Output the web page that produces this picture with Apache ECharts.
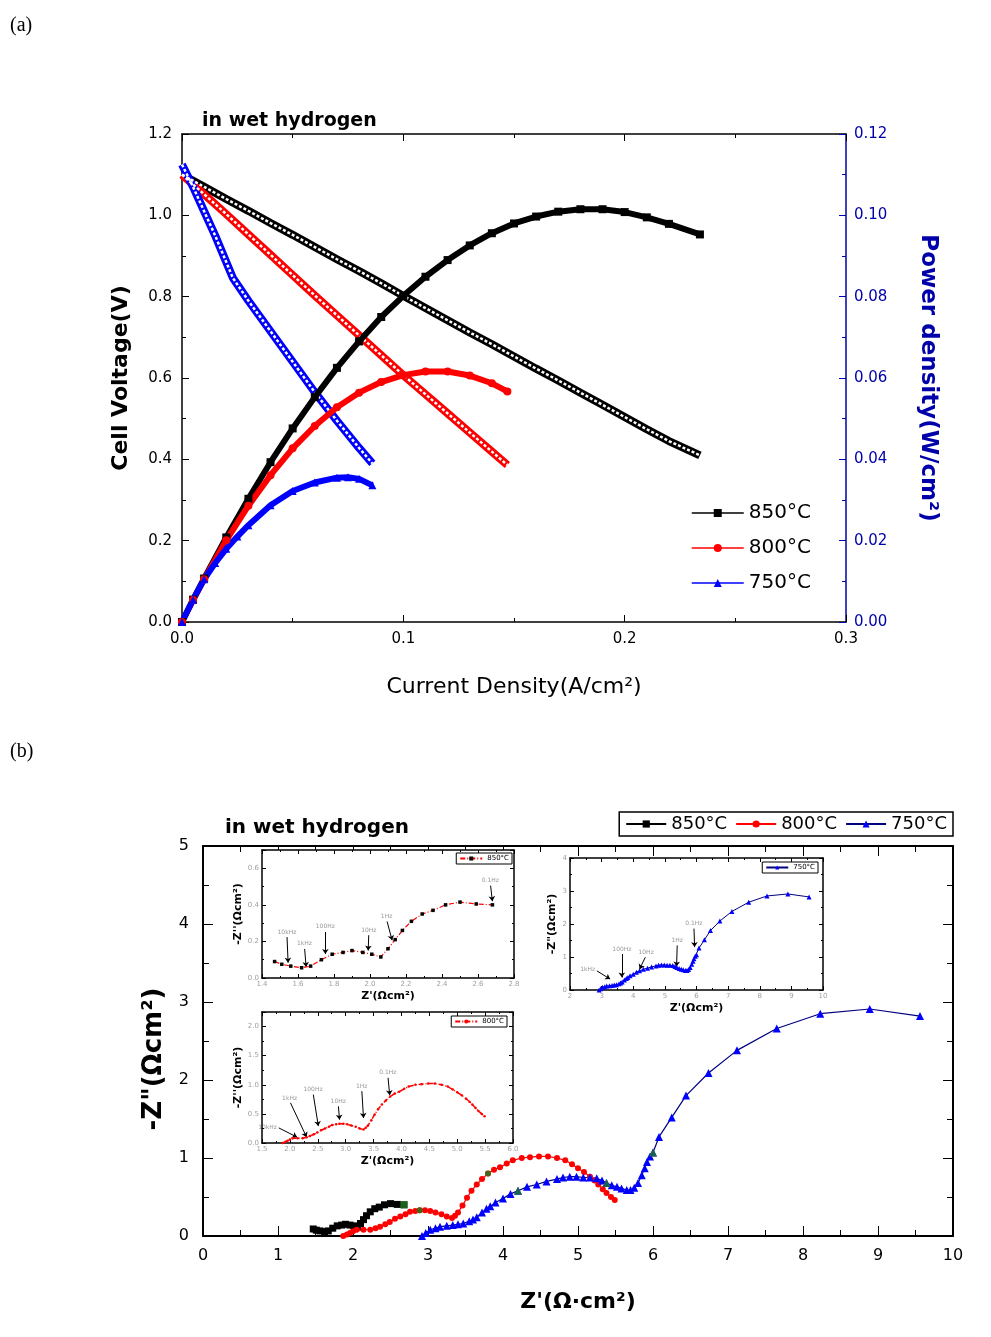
<!DOCTYPE html>
<html><head><meta charset="utf-8">
<script src="https://cdn.jsdelivr.net/npm/echarts@6/dist/echarts.min.js"></script>
<style>html,body{margin:0;padding:0;background:#fff}#c{width:991px;height:1337px}</style>
</head><body><div id="c"></div>
<script>
// ---------------- panel (a): I-V and I-P curves ----------------
const tempNames = ['850°C', '800°C', '750°C'];
const volt850 = [[0,1.100],[0.01,1.070],[0.02,1.040],[0.03,1.011],[0.04,0.981],[0.05,0.952],[0.06,0.922],[0.07,0.892],[0.08,0.863],[0.09,0.833],[0.10,0.802],[0.11,0.772],[0.12,0.742],[0.13,0.712],[0.14,0.683],[0.15,0.653],[0.16,0.623],[0.17,0.594],[0.18,0.564],[0.19,0.534],[0.20,0.504],[0.21,0.474],[0.22,0.445],[0.234,0.410]];
const power850 = [[0,0],[0.005,0.0055],[0.01,0.0107],[0.02,0.0208],[0.03,0.0303],[0.04,0.0393],[0.05,0.0476],[0.06,0.0553],[0.07,0.0625],[0.08,0.0690],[0.09,0.0750],[0.10,0.0802],[0.11,0.0849],[0.12,0.0890],[0.13,0.0926],[0.14,0.0956],[0.15,0.0980],[0.16,0.0997],[0.17,0.1009],[0.18,0.1015],[0.19,0.1015],[0.20,0.1008],[0.21,0.0995],[0.22,0.0979],[0.234,0.0953]];
const volt800 = [[0,1.100],[0.01,1.052],[0.02,1.003],[0.03,0.953],[0.04,0.903],[0.05,0.853],[0.06,0.803],[0.07,0.754],[0.08,0.705],[0.09,0.656],[0.10,0.607],[0.11,0.560],[0.12,0.513],[0.13,0.466],[0.14,0.419],[0.147,0.386]];
const power800 = [[0,0],[0.005,0.0054],[0.01,0.0105],[0.02,0.0201],[0.03,0.0286],[0.04,0.0361],[0.05,0.0427],[0.06,0.0482],[0.07,0.0528],[0.08,0.0564],[0.09,0.0590],[0.10,0.0607],[0.11,0.0616],[0.12,0.0616],[0.13,0.0606],[0.14,0.0587],[0.147,0.0567]];
const volt750 = [[0,1.125],[0.005,1.07],[0.01,1.01],[0.015,0.95],[0.02,0.885],[0.023,0.846],[0.03,0.79],[0.04,0.715],[0.05,0.64],[0.06,0.565],[0.07,0.495],[0.08,0.428],[0.086,0.39]];
const power750 = [[0,0],[0.005,0.0055],[0.01,0.0105],[0.015,0.0145],[0.02,0.0180],[0.025,0.0210],[0.03,0.0238],[0.04,0.0287],[0.05,0.0322],[0.06,0.0343],[0.07,0.0355],[0.075,0.0356],[0.08,0.0352],[0.086,0.0336]];

// ---------------- panel (b): impedance spectra ----------------
const eis850 = [[1.47,0.09],[1.51,0.075],[1.56,0.065],[1.62,0.056],[1.67,0.065],[1.73,0.10],[1.79,0.13],[1.85,0.14],[1.90,0.15],[1.96,0.14],[2.01,0.13],[2.06,0.115],[2.10,0.16],[2.14,0.21],[2.18,0.26],[2.23,0.31],[2.29,0.35],[2.35,0.37],[2.42,0.40],[2.50,0.415],[2.59,0.405],[2.68,0.40]];
const eis800 = [[1.87,0.0],[1.92,0.02],[1.96,0.04],[2.0,0.06],[2.05,0.08],[2.14,0.08],[2.23,0.08],[2.3,0.10],[2.36,0.12],[2.43,0.15],[2.49,0.18],[2.56,0.22],[2.63,0.25],[2.7,0.28],[2.76,0.31],[2.83,0.32],[2.89,0.33],[2.96,0.33],[3.03,0.32],[3.1,0.30],[3.18,0.28],[3.25,0.25],[3.32,0.23],[3.36,0.26],[3.4,0.30],[3.46,0.39],[3.52,0.49],[3.58,0.58],[3.65,0.66],[3.72,0.73],[3.8,0.80],[3.88,0.85],[3.96,0.88],[4.05,0.93],[4.13,0.97],[4.25,1.0],[4.36,1.01],[4.48,1.02],[4.6,1.02],[4.72,1.0],[4.83,0.97],[4.92,0.92],[5.0,0.87],[5.08,0.82],[5.16,0.76],[5.22,0.71],[5.27,0.66],[5.33,0.60],[5.38,0.55],[5.44,0.50],[5.49,0.46]];
const eis750 = [[2.92,0.0],[2.97,0.04],[3.03,0.08],[3.1,0.10],[3.16,0.12],[3.25,0.13],[3.33,0.14],[3.4,0.15],[3.47,0.16],[3.55,0.19],[3.6,0.21],[3.65,0.24],[3.72,0.30],[3.78,0.35],[3.83,0.38],[3.9,0.43],[4.0,0.48],[4.1,0.54],[4.2,0.58],[4.32,0.63],[4.45,0.66],[4.58,0.70],[4.72,0.73],[4.8,0.75],[4.89,0.76],[4.98,0.76],[5.07,0.75],[5.16,0.75],[5.25,0.74],[5.32,0.71],[5.38,0.68],[5.45,0.65],[5.52,0.63],[5.58,0.61],[5.65,0.59],[5.7,0.59],[5.75,0.62],[5.8,0.68],[5.85,0.78],[5.89,0.87],[5.92,0.95],[5.96,1.02],[6.0,1.07],[6.08,1.27],[6.25,1.52],[6.44,1.80],[6.74,2.09],[7.12,2.38],[7.65,2.66],[8.23,2.85],[8.89,2.91],[9.56,2.82]];
const mark850 = [[2.68,0.40]];
const mark800 = [[2.89,0.33],[3.8,0.80]];
const mark750 = [[4.2,0.58],[5.38,0.68],[6.0,1.07]];

// frequency annotations in the insets: [label, arrow start Z', Z'', arrow end Z', Z'']
const freq850 = [['10kHz',1.539,0.224,1.545,0.084],['1kHz',1.637,0.159,1.645,0.06],['100Hz',1.752,0.252,1.752,0.131],['10Hz',1.993,0.234,1.99,0.15],['1Hz',2.095,0.309,2.123,0.206],['0.1Hz',2.67,0.505,2.68,0.42]];
const freq800 = [['10kHz',1.80,0.26,2.13,0.10],['1kHz',2.01,0.69,2.30,0.10],['100Hz',2.42,0.83,2.51,0.29],['10Hz',2.87,0.63,2.89,0.40],['1Hz',3.29,0.89,3.32,0.43],['0.1Hz',3.76,1.12,3.79,0.82]];
const freq750 = [['1kHz',2.85,0.58,3.27,0.33],['100Hz',3.64,1.09,3.64,0.38],['10Hz',4.38,0.99,4.2,0.63],['1Hz',5.39,1.35,5.37,0.71],['0.1Hz',5.92,1.86,5.94,1.3]];

// ---------------- styling helpers ----------------
const BLUE_AX = '#0000aa';
const FONT = 'DejaVu Sans';
function axis(p) {
  const col = p.col || '#000';
  const tl = p.tl || 7;
  return {
    type: 'value', gridIndex: p.g, position: p.pos, min: p.min, max: p.max, interval: p.iv, z: p.z || 0,
    name: p.name || '', nameLocation: 'middle', nameGap: p.gap || 0, nameRotate: p.rot,
    nameTextStyle: p.nts || {},
    axisLine: { show: true, onZero: false, lineStyle: { color: col, width: p.lw || 1.5 } },
    axisTick: { show: true, inside: true, length: tl, lineStyle: { color: col, width: 1 } },
    minorTick: { show: true, splitNumber: 2, length: Math.round(tl * 0.55), lineStyle: { color: col, width: 1 } },
    splitLine: { show: false },
    axisLabel: { show: p.labels !== false, margin: p.lm || 8, color: p.lc || '#000', fontSize: p.fs || 15,
      fontFamily: FONT, formatter: p.fmt, showMaxLabel: p.showMax },
  };
}
const f1 = v => v.toFixed(1), f2 = v => v.toFixed(2), f0 = v => String(Math.round(v));
const insetLbl = { lc: '#a0a0a0', fs: 7, lm: 3, tl: 4, lw: 1.5, z: 6 };
const insetName = { fontSize: 11, fontWeight: 'bold', fontFamily: FONT, color: '#000' };

function annot(list) {
  return {
    silent: true, symbol: ['none', 'arrow'], symbolSize: 5, animation: false,
    lineStyle: { color: '#000', width: 1, type: 'solid' },
    label: { show: true, position: 'start', formatter: p => p.name, color: '#999', fontSize: 6, fontFamily: FONT, distance: 2 },
    data: list.map(a => [{ name: a[0], coord: [a[1], a[2]] }, { coord: [a[3], a[4]] }])
  };
}

const xAxes = [
  axis({ g: 0, pos: 'bottom', min: 0, max: 0.3, iv: 0.1, fmt: f1, lm: 10, name: 'Current Density(A/cm²)', gap: 54,
    nts: { fontSize: 22, fontFamily: FONT, color: '#000' } }),
  axis({ g: 0, pos: 'top', min: 0, max: 0.3, iv: 0.1, labels: false }),
  axis({ g: 1, pos: 'bottom', min: 0, max: 10, iv: 1, fmt: f0, fs: 16, tl: 10, lw: 2, lm: 12, name: "Z'(Ω·cm²)", gap: 55,
    nts: { fontSize: 22, fontWeight: 'bold', fontFamily: FONT, color: '#000' } }),
  axis({ g: 1, pos: 'top', min: 0, max: 10, iv: 1, labels: false, tl: 10, lw: 2 }),
  axis(Object.assign({ g: 2, pos: 'bottom', min: 1.4, max: 2.8, iv: 0.2, fmt: f1, name: "Z'(Ωcm²)", gap: 13, nts: insetName }, insetLbl)),
  axis(Object.assign({ g: 2, pos: 'top', min: 1.4, max: 2.8, iv: 0.2, labels: false }, insetLbl)),
  axis(Object.assign({ g: 3, pos: 'bottom', min: 2, max: 10, iv: 1, fmt: f0, name: "Z'(Ωcm²)", gap: 13, nts: insetName }, insetLbl)),
  axis(Object.assign({ g: 3, pos: 'top', min: 2, max: 10, iv: 1, labels: false }, insetLbl)),
  axis(Object.assign({ g: 4, pos: 'bottom', min: 1.5, max: 6.0, iv: 0.5, fmt: f1, name: "Z'(Ωcm²)", gap: 13, nts: insetName }, insetLbl)),
  axis(Object.assign({ g: 4, pos: 'top', min: 1.5, max: 6.0, iv: 0.5, labels: false }, insetLbl)),
];
const yAxes = [
  axis({ g: 0, pos: 'left', min: 0, max: 1.2, iv: 0.2, fmt: f1, lm: 10, name: 'Cell Voltage(V)', gap: 50,
    nts: { fontSize: 22, fontWeight: 'bold', fontFamily: FONT, color: '#000' } }),
  axis({ g: 0, pos: 'right', min: 0, max: 0.12, iv: 0.02, fmt: f2, lm: 8, col: BLUE_AX, lc: BLUE_AX,
    name: 'Power density(W/cm²)', gap: 70, rot: -90,
    nts: { fontSize: 23, fontWeight: 'bold', fontFamily: FONT, color: BLUE_AX } }),
  axis({ g: 1, pos: 'left', min: 0, max: 5, iv: 1, fmt: f0, fs: 16, tl: 10, lw: 2, lm: 14, name: '-Z"(Ωcm²)', gap: 36,
    nts: { fontSize: 26, fontWeight: 'bold', fontFamily: FONT, color: '#000', padding: [0, 36, 0, 0] } }),
  axis({ g: 1, pos: 'right', min: 0, max: 5, iv: 1, labels: false, tl: 10, lw: 2 }),
  axis(Object.assign({ g: 2, pos: 'left', min: 0, max: 0.7, iv: 0.2, fmt: f1, showMax: false, name: "-Z''(Ωcm²)", gap: 18, nts: insetName }, insetLbl)),
  axis(Object.assign({ g: 2, pos: 'right', min: 0, max: 0.7, iv: 0.2, labels: false }, insetLbl)),
  axis(Object.assign({ g: 3, pos: 'left', min: 0, max: 4, iv: 1, fmt: f0, name: '-Z"(Ωcm²)', gap: 12, nts: insetName }, insetLbl)),
  axis(Object.assign({ g: 3, pos: 'right', min: 0, max: 4, iv: 1, labels: false }, insetLbl)),
  axis(Object.assign({ g: 4, pos: 'left', min: 0, max: 2.25, iv: 0.5, fmt: f1, showMax: false, name: "-Z''(Ωcm²)", gap: 14, nts: insetName }, insetLbl)),
  axis(Object.assign({ g: 4, pos: 'right', min: 0, max: 2.25, iv: 0.5, labels: false }, insetLbl)),
];

const RED = '#ff0000', BLK = '#000000', BLU = '#0000ff', GRN = '#1f7a1f';

function powerSeries(name, data, sym, col) {
  return { name, type: 'line', xAxisIndex: 0, yAxisIndex: 1, data, symbol: sym, symbolSize: 8,
    itemStyle: { color: col }, lineStyle: { color: col, width: 6 }, z: 4 };
}
function voltBand(name, data, col) {
  return [
    { name: name + ' V', type: 'line', xAxisIndex: 0, yAxisIndex: 0, data, symbol: 'none',
      lineStyle: { color: col, width: 8 }, z: 2, silent: true },
    { name: name + ' V core', type: 'line', xAxisIndex: 0, yAxisIndex: 0, data, symbol: 'none',
      lineStyle: { color: '#ffffff', width: 2.5, type: [3, 2] }, z: 3, silent: true },
  ];
}

const series = [
  powerSeries(tempNames[0], power850, 'rect', BLK),
  powerSeries(tempNames[1], power800, 'circle', RED),
  powerSeries(tempNames[2], power750, 'triangle', BLU),
  ...voltBand('850', volt850, BLK),
  ...voltBand('800', volt800, RED),
  ...voltBand('750', volt750, BLU),
  // main impedance plot
  { name: tempNames[0] + ' b', type: 'line', xAxisIndex: 2, yAxisIndex: 2, data: eis850, symbol: 'rect', symbolSize: 7,
    itemStyle: { color: BLK }, lineStyle: { color: BLK, width: 1.2 } },
  { name: tempNames[1] + ' b', type: 'line', xAxisIndex: 2, yAxisIndex: 2, data: eis800, symbol: 'circle', symbolSize: 6,
    itemStyle: { color: RED }, lineStyle: { color: RED, width: 1.2 } },
  { name: tempNames[2] + ' b', type: 'line', xAxisIndex: 2, yAxisIndex: 2, data: eis750, symbol: 'triangle', symbolSize: 8,
    itemStyle: { color: BLU }, lineStyle: { color: '#000080', width: 1.2 } },
  { name: 'f850', type: 'scatter', xAxisIndex: 2, yAxisIndex: 2, data: mark850, symbol: 'rect', symbolSize: 7, itemStyle: { color: GRN }, z: 5 },
  { name: 'f800', type: 'scatter', xAxisIndex: 2, yAxisIndex: 2, data: mark800, symbol: 'circle', symbolSize: 6, itemStyle: { color: GRN }, z: 5 },
  { name: 'f750', type: 'scatter', xAxisIndex: 2, yAxisIndex: 2, data: mark750, symbol: 'triangle', symbolSize: 8, itemStyle: { color: GRN }, z: 5 },
  // insets
  { name: tempNames[0] + ' inset', type: 'line', xAxisIndex: 4, yAxisIndex: 4, data: eis850, symbol: 'rect', symbolSize: 3.5, z: 7,
    itemStyle: { color: BLK }, lineStyle: { color: RED, width: 1.2, type: [5, 2, 1, 2] }, markLine: annot(freq850) },
  { name: tempNames[2] + ' inset', type: 'line', xAxisIndex: 6, yAxisIndex: 6, data: eis750, symbol: 'triangle', symbolSize: 5, z: 7,
    itemStyle: { color: BLU }, lineStyle: { color: '#000080', width: 1 }, markLine: annot(freq750) },
  { name: tempNames[1] + ' inset', type: 'line', xAxisIndex: 8, yAxisIndex: 8, data: eis800, symbol: 'circle', symbolSize: 2.5, z: 7,
    itemStyle: { color: RED }, lineStyle: { color: RED, width: 1.5, type: [5, 2, 1, 2] }, markLine: annot(freq800) },
];

const stripInset = n => n.replace(' inset', '').replace(' b', '');
const insetLegend = (name, right, top) => ({
  data: [name], right, top, orient: 'horizontal', selectedMode: false, formatter: stripInset,
  borderColor: '#000', borderWidth: 1, padding: [2, 3], itemWidth: 22, itemHeight: 5, itemGap: 2,
  textStyle: { fontSize: 7, fontFamily: FONT, color: '#000' }, backgroundColor: '#fff', z: 10
});

const option = {
  animation: false,
  backgroundColor: '#fff',
  title: [
    { text: '(a)', left: 5, top: 11, textStyle: { fontFamily: 'Liberation Serif', fontSize: 20, fontWeight: 'normal', color: '#000' } },
    { text: '(b)', left: 5, top: 737, textStyle: { fontFamily: 'Liberation Serif', fontSize: 20, fontWeight: 'normal', color: '#000' } },
    { text: 'in wet hydrogen', left: 197, top: 107, textStyle: { fontFamily: FONT, fontSize: 19, fontWeight: 'bold', color: '#000' } },
    { text: 'in wet hydrogen', left: 220, top: 813, textStyle: { fontFamily: FONT, fontSize: 20, fontWeight: 'bold', color: '#000' } },
  ],
  grid: [
    { left: 182, top: 134, width: 664, height: 488 },
    { left: 203, top: 846, width: 750, height: 390 },
    { left: 262, top: 850, width: 252, height: 128, show: true, backgroundColor: '#fff', borderWidth: 0, z: 3 },
    { left: 570, top: 858, width: 253, height: 132, show: true, backgroundColor: '#fff', borderWidth: 0, z: 3 },
    { left: 262, top: 1012, width: 251, height: 131, show: true, backgroundColor: '#fff', borderWidth: 0, z: 3 },
  ],
  legend: [
    { data: tempNames, orient: 'vertical', left: 686, top: 498, selectedMode: false, itemWidth: 52, itemHeight: 10, itemGap: 15,
      lineStyle: { width: 1.5 }, textStyle: { fontSize: 20, fontFamily: FONT, color: '#000' } },
    { data: tempNames.map(n => n + ' b'), orient: 'horizontal', right: 38, top: 812, selectedMode: false, formatter: stripInset,
      borderColor: '#000', borderWidth: 1.5, padding: [3, 6], itemWidth: 40, itemHeight: 9, itemGap: 8,
      textStyle: { fontSize: 18, fontFamily: FONT, color: '#000' } },
    insetLegend(tempNames[0] + ' inset', 479, 853),
    insetLegend(tempNames[2] + ' inset', 173, 862),
    insetLegend(tempNames[1] + ' inset', 484, 1016),
  ],
  xAxis: xAxes,
  yAxis: yAxes,
  series
};
const chart = echarts.init(document.getElementById('c'), null, { renderer: 'canvas' });
chart.setOption(option);
</script>
</body></html>
